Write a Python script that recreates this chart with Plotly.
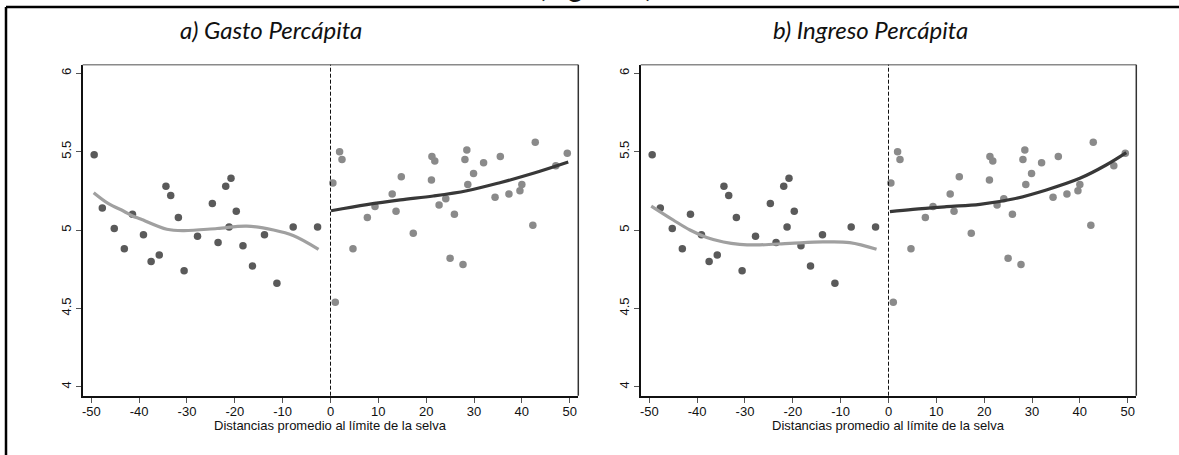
import plotly.graph_objects as go

# ---------------- data ----------------
dist_left = [-49.4, -47.7, -45.2, -43.1, -41.4, -39.1, -37.5, -35.8, -34.4, -33.4,
             -31.8, -30.6, -27.8, -24.7, -23.5, -21.9, -20.8, -21.2, -19.7, -18.3,
             -16.3, -13.8, -11.2, -7.8, -2.7]
val_left = [5.48, 5.14, 5.01, 4.88, 5.10, 4.97, 4.80, 4.84, 5.28, 5.22,
            5.08, 4.74, 4.96, 5.17, 4.92, 5.28, 5.33, 5.02, 5.12, 4.90,
            4.77, 4.97, 4.66, 5.02, 5.02]

dist_right = [0.5, 1.0, 1.9, 2.4, 4.7, 7.7, 9.3, 12.9, 13.7, 14.8, 17.3, 21.1, 21.2,
              21.8, 22.7, 24.1, 25.0, 25.9, 27.7, 28.1, 28.5, 28.7, 29.9, 32.0, 34.4,
              35.5, 37.3, 39.6, 40.0, 42.3, 42.8, 47.1, 49.5]
val_right = [5.30, 4.54, 5.50, 5.45, 4.88, 5.08, 5.15, 5.23, 5.12, 5.34, 4.98, 5.32, 5.47,
             5.44, 5.16, 5.20, 4.82, 5.10, 4.78, 5.45, 5.51, 5.29, 5.36, 5.43, 5.21,
             5.47, 5.23, 5.25, 5.29, 5.03, 5.56, 5.41, 5.49]

gasto_fit_left_x = [-49.5, -46.5, -43.2, -41.4, -39.7, -34.2, -30.7, -23.7, -17.5, -11.9, -7.7, -2.5]
gasto_fit_left_y = [5.238, 5.17, 5.12, 5.09, 5.07, 5.005, 4.996, 5.01, 5.025, 5.0, 4.964, 4.877]
gasto_fit_right_x = [0.1, 7.6, 14.6, 21.5, 28.5, 35.4, 42.4, 49.7]
gasto_fit_right_y = [5.123, 5.162, 5.192, 5.217, 5.251, 5.302, 5.362, 5.434]

ingreso_fit_left_x = [-49.6, -45.0, -41.5, -38.0, -34.5, -31.1, -27.6, -20.6, -13.7, -8.1, -2.5]
ingreso_fit_left_y = [5.153, 5.064, 5.0, 4.953, 4.924, 4.909, 4.905, 4.915, 4.924, 4.92, 4.877]
ingreso_fit_right_x = [0.3, 5.1, 12.1, 19.1, 26.0, 33.0, 40.0, 45.5, 49.7]
ingreso_fit_right_y = [5.117, 5.132, 5.149, 5.164, 5.198, 5.256, 5.33, 5.415, 5.494]

x_tick_vals = [-50, -40, -30, -20, -10, 0, 10, 20, 30, 40, 50]
x_tick_text = ["-50", "-40", "-30", "-20", "-10", "0", "10", "20", "30", "40", "50"]
y_tick_vals = [4, 4.5, 5, 5.5, 6]
y_tick_text = ["4", "4.5", "5", "5.5", "6"]

panel_titles = ["a) Gasto Percápita", "b) Ingreso Percápita"]
x_title = "Distancias promedio al límite de la selva"
top_text = "(Figura 1)"

# ---------------- figure ----------------
W, H = 1179, 455
DARK_PT = "#5a5a5a"
LIGHT_PT = "#8a8a8a"
LIGHT_LINE = "#a0a0a0"
DARK_LINE = "#383838"

fig = go.Figure()

panels = [
    ("x", "y", gasto_fit_left_x, gasto_fit_left_y, gasto_fit_right_x, gasto_fit_right_y),
    ("x2", "y2", ingreso_fit_left_x, ingreso_fit_left_y, ingreso_fit_right_x, ingreso_fit_right_y),
]
for xa, ya, flx, fly, frx, fry in panels:
    fig.add_trace(go.Scatter(x=dist_left, y=val_left, mode="markers", xaxis=xa, yaxis=ya,
                             marker=dict(size=7.5, color=DARK_PT, line=dict(width=0)),
                             showlegend=False))
    fig.add_trace(go.Scatter(x=dist_right, y=val_right, mode="markers", xaxis=xa, yaxis=ya,
                             marker=dict(size=7.5, color=LIGHT_PT, line=dict(width=0)),
                             showlegend=False))
    fig.add_trace(go.Scatter(x=flx, y=fly, mode="lines", xaxis=xa, yaxis=ya,
                             line=dict(color=LIGHT_LINE, width=3.2, shape="spline", smoothing=1.0),
                             showlegend=False))
    fig.add_trace(go.Scatter(x=frx, y=fry, mode="lines", xaxis=xa, yaxis=ya,
                             line=dict(color=DARK_LINE, width=3.2, shape="spline", smoothing=1.0),
                             showlegend=False))

tick_font = dict(family="Liberation Sans, Arial, sans-serif", size=13, color="#111")
y_dom = [1 - 395.7 / H, 1 - 64.7 / H]
x_doms = [[82.7 / W, 578.3 / W], [640.7 / W, 1136.3 / W]]

common_x = dict(range=[-51.8, 51.8], tickmode="array", tickvals=x_tick_vals, ticktext=x_tick_text,
                ticks="outside", ticklen=5, tickwidth=1, tickcolor="#555", showline=True,
                linecolor="#111", linewidth=1.6, showgrid=False, zeroline=False,
                tickfont=tick_font, automargin=False, ticklabelstandoff=-2)
common_y = dict(range=[3.943, 6.055], tickmode="array", tickvals=y_tick_vals, ticktext=y_tick_text,
                ticks="outside", ticklen=5, tickwidth=1, tickcolor="#555", showline=True,
                linecolor="#111", linewidth=1.6, showgrid=False, zeroline=False,
                tickfont=tick_font, tickangle=-90, domain=y_dom, automargin=False)

fig.update_layout(
    width=W, height=H,
    margin=dict(l=0, r=0, t=0, b=0),
    paper_bgcolor="white", plot_bgcolor="white",
    xaxis=dict(domain=x_doms[0], anchor="y", **common_x),
    yaxis=dict(anchor="x", **common_y),
    xaxis2=dict(domain=x_doms[1], anchor="y2", **common_x),
    yaxis2=dict(anchor="x2", **common_y),
)

shapes = []
for xa, ya in [("x", "y"), ("x2", "y2")]:
    shapes.append(dict(type="line", xref=f"{xa} domain", yref=f"{ya} domain", x0=0, x1=1, y0=1, y1=1,
                       line=dict(color="#8a8a8a", width=1.5)))
    shapes.append(dict(type="line", xref=f"{xa} domain", yref=f"{ya} domain", x0=1, x1=1, y0=0, y1=1,
                       line=dict(color="#333", width=1.5)))
    shapes.append(dict(type="line", xref=xa, yref=f"{ya} domain", x0=0, x1=0, y0=0, y1=1,
                       line=dict(color="#111", width=1, dash="4px,2px")))
# outer frame
shapes.append(dict(type="line", xref="paper", yref="paper", x0=6 / W, x1=1, y0=1 - 7 / H, y1=1 - 7 / H,
                   line=dict(color="black", width=2.5)))
shapes.append(dict(type="line", xref="paper", yref="paper", x0=6 / W, x1=6 / W, y0=0, y1=1 - 7 / H,
                   line=dict(color="black", width=2.5)))
fig.update_layout(shapes=shapes)

title_font = dict(family="Lato, Open Sans, sans-serif", size=24, color="#111", style="italic")
annotations = [
    dict(text=panel_titles[0], x=271 / W, y=1 - 30 / H, xref="paper", yref="paper",
         xanchor="center", yanchor="middle", showarrow=False, font=title_font),
    dict(text=panel_titles[1], x=870 / W, y=1 - 30 / H, xref="paper", yref="paper",
         xanchor="center", yanchor="middle", showarrow=False, font=title_font),
    dict(text=x_title, x=330.3 / W, y=1 - 425 / H, xref="paper", yref="paper",
         xanchor="center", yanchor="middle", showarrow=False, font=tick_font),
    dict(text=x_title, x=888.7 / W, y=1 - 425 / H, xref="paper", yref="paper",
         xanchor="center", yanchor="middle", showarrow=False, font=tick_font),
    dict(text=top_text, x=595 / W, y=1 + 14 / H, xref="paper", yref="paper",
         xanchor="center", yanchor="middle", showarrow=False,
         font=dict(family="Lato, Open Sans, sans-serif", size=28, color="#111")),
]
fig.update_layout(annotations=annotations)

fig.write_html("out.html",
               config={"displayModeBar": False},
               post_script="document.body.style.margin='0';document.body.style.overflow='hidden';")
